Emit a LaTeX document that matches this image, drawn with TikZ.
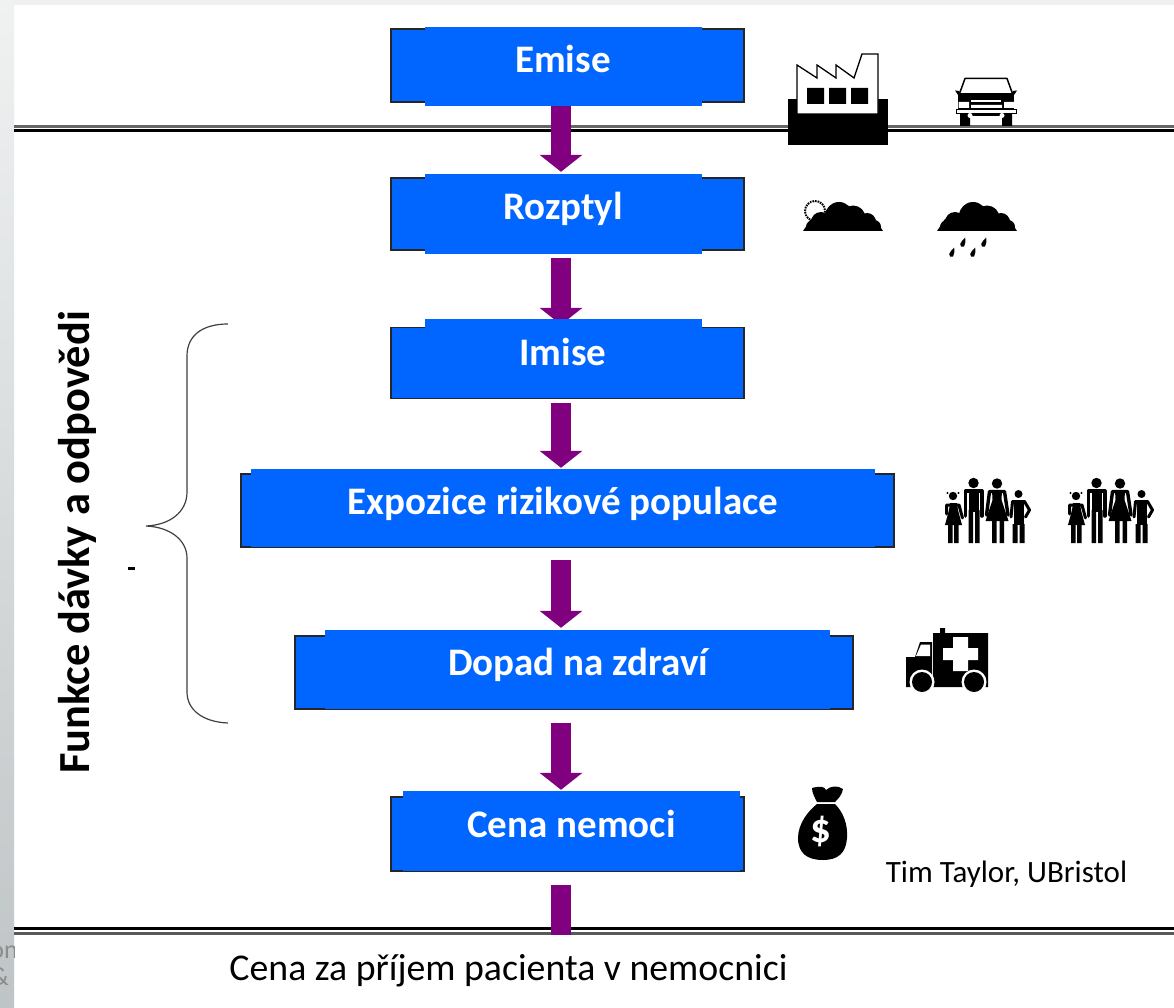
\documentclass[tikz,border=0pt]{standalone}
\usepackage{fontspec}
\setmainfont{Carlito}
\usetikzlibrary{arrows.meta,calc}
\pgfdeclarelayer{slide}
\pgfdeclarelayer{arrows}
\pgfsetlayers{slide,arrows,main}
\definecolor{boxblue}{HTML}{0066FF}
\definecolor{arrowpurple}{HTML}{800080}
\definecolor{striptop}{HTML}{F0F2F2}
\definecolor{stripbottom}{HTML}{BFC4C6}
\tikzset{
  outerbox/.style={draw=black!85,line width=1.2pt,fill=boxblue,inner sep=0pt,minimum width=#1},
  tabbox/.style={fill=boxblue,inner sep=0pt,minimum width=#1},
  boxtext/.style={text=white,font=\fontsize{39}{42}\selectfont\bfseries,inner sep=0pt,anchor=base},
  flow/.style={draw=arrowpurple,line width=20pt,-{Triangle[length=17pt,width=42pt]}},
  flowend/.style={draw=arrowpurple,line width=20pt},
  plaintext/.style={text=black,inner sep=0pt,anchor=base},
  limb/.style={draw=black,line cap=round,line join=round,line width=#1},
}
\newcommand{\cloudicon}[2]{%
  \begin{scope}[shift={(#1,#2)}]
    \begin{scope}
      \clip (-1,-40) rectangle (81,0);
      \fill (0,0) -- (8,-12) -- (72,-12) -- (80,0) -- cycle;
      \fill (36,-15) circle (14);
      \fill (50,-13) circle (12.5);
      \fill (18,-9) circle (10);
      \fill (64,-9) circle (9);
      \fill (10,-4) circle (7);
      \fill (71,-4) circle (7);
    \end{scope}
  \end{scope}}
\newcommand{\dropicon}[2]{%
  \fill[shift={(#1,#2)}] (2.2,-5.5) .. controls (2,-2) and (3.2,1) .. (1,3.5) .. controls (-1,5) and (-3.4,3.4) .. (-2.8,1) .. controls (-2.2,-1) and (0,-3.5) .. (2.2,-5.5) -- cycle;}
\newcommand{\familyicon}[1]{%
  \begin{scope}[shift={(#1,0)}]
    % girl
    \fill (953,496) circle (4.2);
    \fill (947.5,493) circle (1.1) (958.5,493) circle (1.1);
    \draw[limb=3pt] (946.5,514) -- (946.5,505) -- (959,505) -- (962.5,518);
    \fill (950,503) -- (957,503) -- (958,510) -- (962,525) -- (945,525) -- (949,510) -- cycle;
    \fill (948,524) rectangle (952.6,543) (954,524) rectangle (958.6,543);
    % man
    \fill (973.5,483) circle (5.2);
    \draw[limb=3.6pt] (965.6,516) -- (965.6,491) -- (981.8,491) -- (981.8,516);
    \fill (968.6,490) rectangle (979.4,512);
    \fill (968.6,510) rectangle (973.2,543) (975,510) rectangle (979.6,543);
    % woman
    \fill (997,483.5) circle (5.2);
    \draw[limb=3.4pt] (986.5,515) -- (989.5,491.5) -- (1004.5,491.5) -- (1008,515);
    \fill (992,490) -- (1002,490) -- (1001.5,500) -- (1008.5,521) -- (985.5,521) -- (992.5,500) -- cycle;
    \fill (992,520) rectangle (996.5,543) (999.5,520) rectangle (1004,543);
    % boy
    \fill (1018.5,494) circle (4);
    \draw[limb=3pt] (1011,517) -- (1012.5,501.5) -- (1024.5,501.5) -- (1029.5,510) -- (1025.5,517);
    \fill (1013.5,500) rectangle (1024,525);
    \fill (1012.5,524) rectangle (1017.5,543) (1019.5,524) rectangle (1024.5,543);
  \end{scope}}
\begin{document}
\begin{tikzpicture}[x=1pt,y=-1pt]
\useasboundingbox (0,0) rectangle (1174,1008);
% slide background
\begin{pgfonlayer}{slide}
\fill[white] (0,0) rectangle (1174,1008);
\fill[black!6] (0,0) rectangle (1174,5);
\shade[top color=striptop,bottom color=stripbottom] (0,0) rectangle (14,1008);
\begin{scope}
  \clip (0,930) rectangle (14,1000);
  \node[text=black!45,anchor=base east,inner sep=0pt,font=\fontsize{26}{28}\selectfont] (cutone) at (18,958) {on};
  \node[text=black!45,anchor=base east,inner sep=0pt,font=\fontsize{26}{28}\selectfont] (cuttwo) at (9,985) {\&};
\end{scope}
% horizontal double rules
\fill[black!60] (14,125) rectangle (1174,127.8);
\fill[black] (14,129.5) rectangle (1174,132.2);
\fill[black] (14,926.8) rectangle (1174,929.8);
\fill[black!65] (14,931.8) rectangle (1174,934.8);
\end{pgfonlayer}
% boxes
\node[outerbox=353,minimum height=73] (emise) at (567.5,65.5) {};
\node[tabbox=277,minimum height=79] (emisetab) at (563.5,66.5) {};
\node[boxtext] (emisetext) at (563,73) {Emise};
\node[outerbox=353,minimum height=72] (rozptyl) at (567.5,214) {};
\node[tabbox=277,minimum height=80] (rozptyltab) at (563.5,214) {};
\node[boxtext] (rozptyltext) at (563,220) {Rozptyl};
\node[outerbox=353,minimum height=71] (imise) at (567.5,363) {};
\node[tabbox=277,minimum height=79] (imisetab) at (563.5,358.5) {};
\node[boxtext] (imisetext) at (563,365) {Imise};
\node[outerbox=653,minimum height=73] (expozice) at (567.5,510.5) {};
\node[tabbox=624,minimum height=78] (expozicetab) at (563,508) {};
\node[boxtext] (expozicetext) at (563,514) {Expozice rizikové populace};
\node[outerbox=558,minimum height=73] (dopad) at (574,672.5) {};
\node[tabbox=505,minimum height=79] (dopadtab) at (577.5,669.5) {};
\node[boxtext] (dopadtext) at (578,675) {Dopad na zdraví};
\node[outerbox=353,minimum height=74] (cena) at (567.5,834) {};
\node[tabbox=337,minimum height=80] (cenatab) at (571.5,831) {};
\node[boxtext] (cenatext) at (571.5,837) {Cena nemoci};
% arrows
\coordinate (axis) at (561,0);
\coordinate (flowstop) at (561,935);
\begin{pgfonlayer}{arrows}
\draw[flow,shorten >=2pt] (emisetab.south -| axis) -- (rozptyltab.north -| axis);
\draw[flow,shorten <=7pt,shorten >=-6pt] (rozptyl.south -| axis) -- (imisetab.north -| axis);
\draw[flow,shorten <=4pt,shorten >=1pt] (imise.south -| axis) -- (expozicetab.north -| axis);
\draw[flow,shorten <=12pt,shorten >=2pt] (expozice.south -| axis) -- (dopadtab.north -| axis);
\draw[flow,shorten <=13pt,shorten >=1pt] (dopad.south -| axis) -- (cenatab.north -| axis);
\draw[flowend,shorten <=13pt] (cena.south -| axis) -- (flowstop);
\end{pgfonlayer}
% brace
\draw[black!75,line width=1.2pt] (228,324) .. controls (203,324) and (187,335) .. (187,356) -- (187,492) .. controls (187,512) and (170,525) .. (146,526) .. controls (170,527) and (187,540) .. (187,558) -- (187,692) .. controls (187,710) and (203,722) .. (228,723);
\fill[black] (127.5,567) rectangle (135,569.5);
% side and foot labels
\node[plaintext,rotate=90,font=\fontsize{44.4}{48}\selectfont\bfseries] (sidelabel) at (89,542.5) {Funkce dávky a odpovědi};
\node[plaintext,font=\fontsize{31}{34}\selectfont] (credit) at (1006.5,882) {Tim Taylor, UBristol};
\node[plaintext,font=\fontsize{37.8}{40}\selectfont] (footer) at (508.5,980) {Cena za příjem pacienta v nemocnici};
% factory
\fill (788,99) rectangle (888,145);
\filldraw[fill=white,draw=black,line width=1.3pt] (797,65) -- (817,78) -- (817,65) -- (836,78) -- (836,65) -- (854,78) -- (862,54) -- (878,54) -- (878,114) -- (797,114) -- cycle;
\fill (807,88) rectangle (824,104) (829,88) rectangle (846,104) (851,88) rectangle (868,104);
% car
\fill (960,114) rectangle (970,126) (1002,114) rectangle (1012,126);
\filldraw[fill=white,draw=black,line width=1.5pt,line join=round] (965,78.5) -- (1007,78.5) -- (1013,95) -- (959,95) -- cycle;
\fill (958,93) rectangle (1014,110);
\fill (955,90.5) -- (959.5,91) -- (958,95) -- cycle (1017,90.5) -- (1012.5,91) -- (1014,95) -- cycle;
\fill[white] (958.5,102) rectangle (969,108) (1004,102) rectangle (1014,108) (971,105) rectangle (1002,108);
\fill[white] (971,100.5) rectangle (1001,102.5);
\filldraw[fill=white,draw=black,line width=.8pt] (956,109.5) rectangle (1016,113);
\fill (966,113) rectangle (1006,116);
\fill[white] (970,115.5) circle (2.5) (1002,115.5) circle (2.5);
% weather
\filldraw[fill=white,draw=black,line width=2pt,dash pattern=on 1.6pt off 1pt] (815,211) circle (10);
\cloudicon{803}{231}
\cloudicon{937}{231}
\dropicon{963}{243}
\dropicon{984}{243}
\dropicon{952}{253}
\dropicon{973}{253}
% families
\familyicon{0}
\familyicon{123}
% ambulance
\fill (933,633) rectangle (988,687) (940,628) rectangle (945,634);
\fill (906,657) -- (915,657) -- (920,642) -- (932,642) -- (932,687) -- (906,687) -- cycle;
\fill[white] (916,656) -- (921,644.5) -- (930,644.5) -- (930,656) -- cycle;
\fill[white] (953,637) rectangle (968,671) (943,648) rectangle (978,660);
\fill[white] (922,682) circle (12.5) (974,682) circle (12.5);
\fill[white] (906,687.5) rectangle (988,696);
\fill (922,682) circle (10) (974,682) circle (10);
% money bag
\fill (812,788) .. controls (820,786) and (824,786) .. (826,790) .. controls (830,786) and (838,785) .. (843,789) .. controls (842,795) and (838,799) .. (835,802) -- (817,802) .. controls (815,798) and (812,793) .. (812,788) -- cycle;
\fill (817,804) -- (835,804) .. controls (843,812) and (848,824) .. (847,838) .. controls (846,853) and (838,860) .. (823,860) .. controls (807,860) and (798,853) .. (798,838) .. controls (798,824) and (808,811) .. (817,804) -- cycle;
\node[text=white,inner sep=0pt,font=\fontsize{41}{44}\selectfont\bfseries] (dollar) at (821,831) {\$};
\end{tikzpicture}
\end{document}
